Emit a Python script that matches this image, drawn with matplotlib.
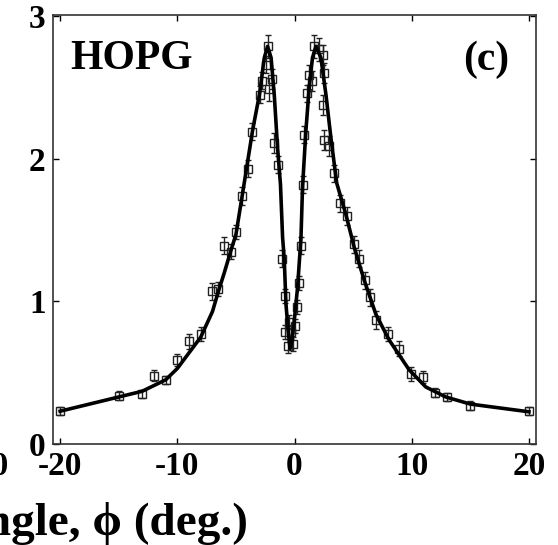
import matplotlib
matplotlib.use("Agg")
import matplotlib.pyplot as plt

# measured points
phi = [-20, -15, -13, -12, -11, -10, -9, -8, -7, -6.5, -6.0, -5.45, -5.0, -4.5,
       -4.0, -3.65, -2.95, -2.75, -2.45, -2.3, -2.15, -1.95, -1.73, -1.4, -1.07,
       -0.85, -0.79, -0.6, -0.45, -0.3, -0.17, 0.0, 0.17, 0.4, 0.55, 0.68, 0.83,
       1.1, 1.25, 1.5, 1.7, 2.1, 2.4, 2.5, 2.47, 2.53, 2.9, 3.4, 3.85, 4.45, 5.1,
       5.5, 6.0, 6.45, 6.95, 8.0, 8.9, 9.9, 11.0, 12.0, 13.0, 15.0, 20.0]
intensity = [0.23, 0.34, 0.35, 0.48, 0.45, 0.59, 0.72, 0.77, 1.07, 1.09, 1.39, 1.35,
             1.49, 1.74, 1.93, 2.19, 2.45, 2.55, 2.66, 2.79, 2.49, 2.56, 2.11, 1.96,
             1.30, 1.04, 0.785, 0.69, 0.855, 0.785, 0.70, 0.83, 0.96, 1.13, 1.39,
             1.82, 2.17, 2.46, 2.59, 2.55, 2.79, 2.77, 2.73, 2.60, 2.38, 2.13, 2.09,
             1.90, 1.69, 1.60, 1.40, 1.30, 1.15, 1.03, 0.87, 0.77, 0.67, 0.49, 0.47,
             0.36, 0.33, 0.27, 0.23]
error = [0.03, 0.03, 0.03, 0.04, 0.03, 0.04, 0.05, 0.05, 0.06, 0.05, 0.06, 0.05,
         0.05, 0.06, 0.06, 0.06, 0.06, 0.06, 0.06, 0.08, 0.08, 0.07, 0.07, 0.06,
         0.06, 0.05, 0.05, 0.05, 0.05, 0.05, 0.05, 0.05, 0.05, 0.05, 0.06, 0.06,
         0.06, 0.06, 0.07, 0.07, 0.08, 0.08, 0.07, 0.07, 0.07, 0.07, 0.07, 0.06,
         0.06, 0.06, 0.06, 0.06, 0.06, 0.06, 0.06, 0.05, 0.05, 0.05, 0.04, 0.03,
         0.03, 0.03, 0.03]

# fitted curve
fit_phi = [-20, -15, -13, -12, -11, -10, -9, -8, -7, -6.5, -6.0, -5.42, -5.0, -4.43,
           -3.58, -3.0, -2.58, -2.3, -2.0, -1.73, -1.45, -1.2, -1.02, -0.88, -0.73,
           -0.55, -0.45, -0.38, -0.22, -0.03, 0.26, 0.55, 0.68, 0.97, 1.25, 1.53,
           1.82, 2.25, 2.68, 3.1, 3.6, 4.38, 5.09, 5.94, 6.94, 8.07, 9.78, 11.2,
           12.9, 15.0, 20.0]
fit_int = [0.23, 0.33, 0.37, 0.41, 0.45, 0.53, 0.64, 0.75, 0.93, 1.07, 1.20, 1.36,
           1.47, 1.76, 2.20, 2.45, 2.71, 2.79, 2.71, 2.45, 2.08, 1.82, 1.45, 1.30,
           0.98, 0.80, 0.72, 0.67, 0.73, 0.86, 1.10, 1.45, 1.80, 2.20, 2.50, 2.71,
           2.79, 2.71, 2.45, 2.15, 1.83, 1.61, 1.38, 1.15, 0.91, 0.73, 0.52, 0.40,
           0.33, 0.28, 0.226]

xticks = [-20, -10, 0, 10, 20]
yticks = [0, 1, 2, 3]

serif = ["Liberation Serif", "DejaVu Serif"]
plt.rcParams["font.family"] = serif
plt.rcParams["font.weight"] = "bold"
plt.rcParams["axes.unicode_minus"] = False

fig = plt.figure(figsize=(5.58, 5.45), dpi=100)
ax = fig.add_axes([52.5 / 558, 101 / 545, (536 - 52.5) / 558, (444 - 15) / 545])

ax.plot(fit_phi, fit_int, color="black", lw=2.6, zorder=3)
ax.errorbar(phi, intensity, yerr=error, fmt="s", mfc="none", mec="#222222",
            ms=5.5, mew=1.0, ecolor="#222222", elinewidth=1.0, capsize=2.5,
            capthick=1.0, zorder=2)

ax.set_xlim(-20.65, 20.6)
ax.set_ylim(0, 3.01)
ax.set_xticks(xticks)
ax.set_yticks(yticks)
ax.tick_params(direction="in", length=4, width=1, top=True, right=True,
               labelsize=24, pad=5, colors="black")
for lab in ax.get_xticklabels() + ax.get_yticklabels():
    lab.set_fontweight("bold")
for s in ax.spines.values():
    s.set_linewidth(1.2)
    s.set_color("#333333")

ax.text(0.037, 0.873, "HOPG", transform=ax.transAxes, fontsize=30,
        fontweight="bold", ha="left", va="baseline")
ax.text(0.945, 0.873, "(c)", transform=ax.transAxes, fontsize=30,
        fontweight="bold", ha="right", va="baseline")

# cropped fragments of the neighbouring panel / full label
fig.text(9 / 558, 101 / 545 - 0.012, "20", fontsize=24, fontweight="bold",
         ha="right", va="top")
fig.text(248 / 558, 10 / 545, "Azimuthal angle, \u03d5 (deg.)", fontsize=34,
         fontweight="bold", ha="right", va="baseline")

fig.savefig("out.png", dpi=100)
